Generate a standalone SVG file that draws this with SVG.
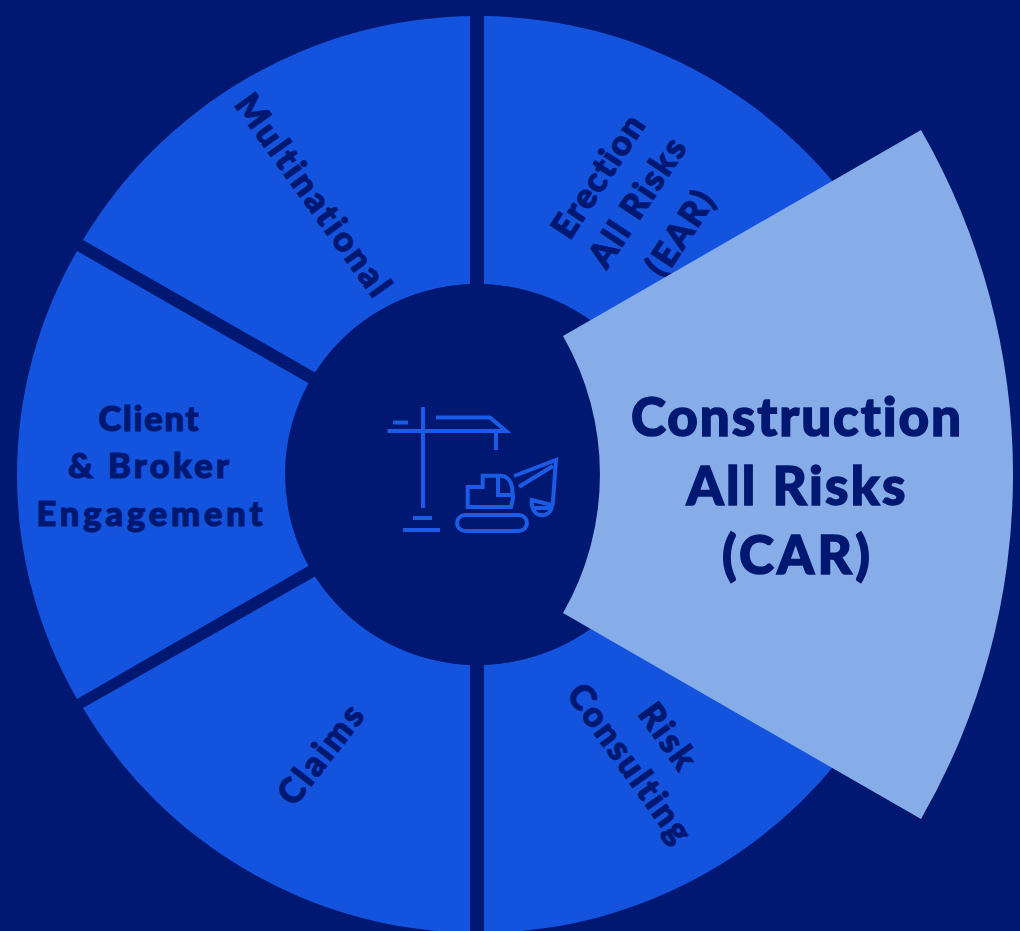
<svg xmlns="http://www.w3.org/2000/svg" width="1020" height="931" viewBox="0 0 1020 931">
<style>
.bg{fill:#001871}
.seg{fill:#1353de}
.hi{fill:#87ade8}
text{font-family:"Lato","Liberation Sans",sans-serif;font-weight:900;fill:#001871;stroke:#001871;text-anchor:middle;font-variant-ligatures:none}
.s{font-size:34.500px;stroke-width:1.200px}
.b{font-size:53px;stroke-width:1.500px}
.i{fill:none;stroke:#1a5ce6;stroke-width:4}
</style>
<rect class="bg" width="1020" height="931"/>
<g id="connectors"/>
<g id="node-erection"><path class="seg" d="M484 16A460.500 458.500 0 0 1 873 238L640 380L574 311A192.500 190.500 0 0 0 484 284Z"/>
<text class="s" textLength="139" transform="translate(608 183) rotate(-56.500)">Erection</text><text class="s" textLength="147" transform="translate(647 209) rotate(-56.500)">All Risks</text><text class="s" textLength="94" transform="translate(690 240) rotate(-56.500)">(EAR)</text></g>
<g id="node-risk"><path class="seg" d="M484 933A460.500 458.500 0 0 0 873 711L640 569L574 638A192.500 190.500 0 0 1 484 665Z"/>
<text class="s" textLength="72" transform="translate(658 743) rotate(54.300)">Risk</text><text class="s" textLength="186" transform="translate(620 770) rotate(54.300)">Consulting</text></g>
<g id="node-claims"><path class="seg" d="M470 933A460.500 458.500 0 0 1 83 708L316 576A192.500 190.500 0 0 0 470 665Z"/>
<text class="s" textLength="116" transform="translate(330 762) rotate(-52)">Claims</text></g>
<g id="node-client"><path class="seg" d="M77 699A448 448 0 0 1 77 251L310 384A192.500 190.500 0 0 0 310 565Z"/>
<text class="s" textLength="100" x="148.500" y="431">Client</text><text class="s" textLength="161" x="148.500" y="478">&amp; Broker</text><text class="s" textLength="226" x="149.500" y="525.500">Engagement</text></g>
<g id="node-multinational"><path class="seg" d="M83 240A460.500 458.500 0 0 1 470 16L470 284A192.500 190.500 0 0 0 316 373Z"/>
<text class="s" textLength="240" transform="translate(303.500 202) rotate(54.300)">Multinational</text></g>
<g id="node-center"><ellipse class="bg" cx="477.500" cy="474.500" rx="192.500" ry="190.500"/>
<g class="i"><path d="M423 407V508M387.500 431H506L490 417.500H436M496 431V450M393 422.500H408M413 518H432M403 530H440"/>
<rect x="457" y="515" width="70" height="16" rx="8"/>
<path d="M467.700 507V487H482.700V475.700H500C507 475.700 511 481 512 487L513 498L511 507ZM498 476V495H512"/>
<path d="M514 476L556 460L552.700 505M519 486.700L553 466M531.700 500L552 505C552 512 546 516 541 515C535 515 531 508 531.700 500ZM533 508H551"/></g></g>
<g id="node-car"><path class="hi" d="M563 336L921 130A691 691 0 0 1 921 819L563 613A278 278 0 0 0 563 336Z"/>
<text class="b" textLength="330" x="796" y="436">Construction</text><text class="b" textLength="219" x="796" y="505">All Risks</text><text class="b" textLength="148" x="796" y="574">(CAR)</text></g>
</svg>
